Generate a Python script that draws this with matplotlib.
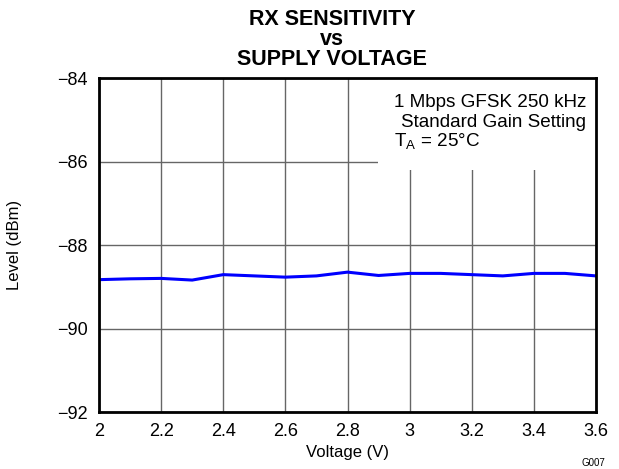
import matplotlib
matplotlib.use("Agg")
import matplotlib.pyplot as plt
from matplotlib.patches import Rectangle

plt.rcParams['font.family'] = ['Liberation Sans', 'DejaVu Sans']

voltage = [2.0, 2.1, 2.2, 2.3, 2.4, 2.5, 2.6, 2.7, 2.8, 2.9, 3.0, 3.1, 3.2, 3.3, 3.4, 3.5, 3.6]
level = [-88.83, -88.81, -88.80, -88.84, -88.71, -88.74, -88.77, -88.74, -88.65, -88.73, -88.68,
         -88.68, -88.71, -88.74, -88.68, -88.68, -88.74]
xticks = [2, 2.2, 2.4, 2.6, 2.8, 3, 3.2, 3.4, 3.6]
xticklabels = ['2', '2.2', '2.4', '2.6', '2.8', '3', '3.2', '3.4', '3.6']
yticks = [-92, -90, -88, -86, -84]
yticklabels = ['\u221292', '\u221290', '\u221288', '\u221286', '\u221284']

W, H = 619, 469
fig = plt.figure(figsize=(W / 100, H / 100), dpi=100)
L, R, T, B = 99, 596, 78, 412
ax = fig.add_axes([L / W, 1 - B / H, (R - L) / W, (B - T) / H])
ax.plot(voltage, level, color='#0000ff', lw=2.2, zorder=4)
ax.set_xlim(2, 3.6)
ax.set_ylim(-92, -84)
ax.set_xticks(xticks)
ax.set_xticklabels(xticklabels)
ax.set_yticks(yticks)
ax.set_yticklabels(yticklabels)
ax.tick_params(axis='both', labelsize=13, length=0)
ax.tick_params(axis='y', pad=8)
ax.tick_params(axis='x', pad=8)
ax.grid(True, color='#666666', lw=1.0, zorder=1)
ax.set_axisbelow(True)
for s in ax.spines.values():
    s.set_linewidth(2)
    s.set_color('black')
    s.set_zorder(6)

# white box behind annotation
bx0 = (378 - L) / (R - L)
by0 = (B - 170) / (B - T)
ax.add_patch(Rectangle((bx0, by0), 1 - bx0, 1 - by0, transform=ax.transAxes,
                       facecolor='white', edgecolor='none', zorder=2))

fig.text(587 / W, 1 - 107 / H, '1 Mbps GFSK 250 kHz', ha='right', va='baseline', fontsize=13.6)
fig.text(586 / W, 1 - 127 / H, 'Standard Gain Setting', ha='right', va='baseline', fontsize=13.6)
fig.text(394 / W, 1 - 147 / H, r'T$_\mathregular{A}$ = 25°C', ha='left', va='baseline', fontsize=13.6)

fig.text(332 / W, 1 - 25 / H, 'RX SENSITIVITY', ha='center', va='baseline', fontsize=15.5, fontweight='bold')
fig.text(332 / W, 1 - 45 / H, 'vs', ha='center', va='baseline', fontsize=15.5, fontweight='bold')
fig.text(332 / W, 1 - 65 / H, 'SUPPLY VOLTAGE', ha='center', va='baseline', fontsize=15.5, fontweight='bold')

fig.text(15 / W, 1 - 245 / H, 'Level (dBm)', ha='center', va='center', rotation=90, fontsize=12)
fig.text(348 / W, 1 - 452 / H, 'Voltage (V)', ha='center', va='center', fontsize=12)
fig.text(605 / W, 1 - 463 / H, 'G007', ha='right', va='center', fontsize=7)
fig.savefig('out.png', dpi=100)
